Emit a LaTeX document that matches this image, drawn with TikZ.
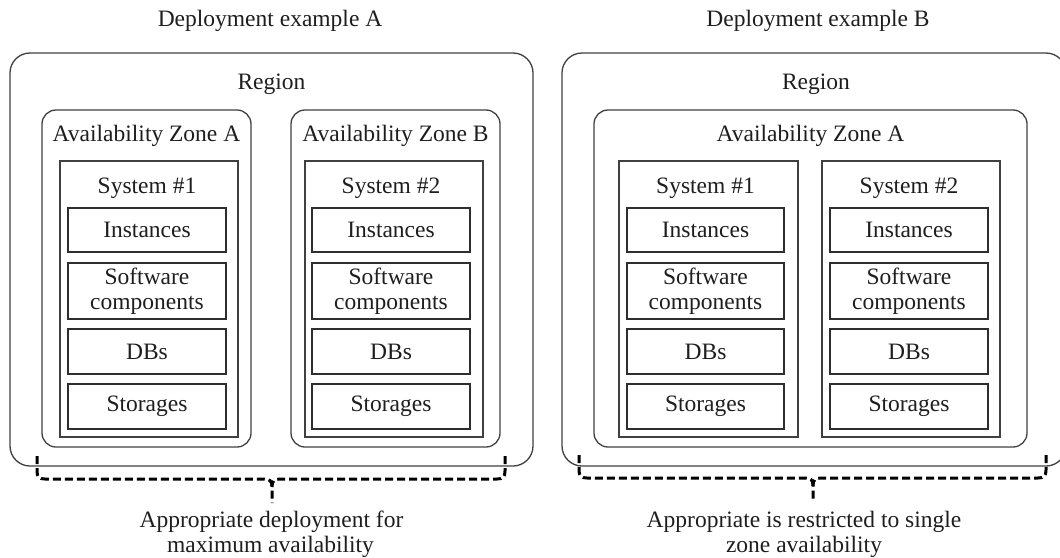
\documentclass[tikz,border=0pt]{standalone}
\usepackage{fontspec}
\setmainfont{Liberation Serif}
\newcommand\myfs{\fontsize{23.5}{25}\selectfont}
\definecolor{ln}{HTML}{404040}
\definecolor{lnd}{HTML}{2E2E2E}
\definecolor{txt}{HTML}{1E1E1E}
\tikzset{
  regionbox/.style={draw=ln, line width=1.3pt, rounded corners=20pt, inner sep=0pt, outer sep=0pt},
  zonebox/.style={draw=ln, line width=1.3pt, rounded corners=14pt, inner sep=0pt, outer sep=0pt},
  sysbox/.style={draw=ln, line width=1.3pt, inner sep=0pt, outer sep=0pt},
  itembox/.style={draw=lnd, line width=2pt, inner sep=0pt, outer sep=0pt, align=center, text=txt, font=\myfs},
  lbl/.style={anchor=base, text=txt, font=\myfs, inner sep=0pt},
  bracepath/.style={draw=black, line width=3pt, dash pattern=on 8pt off 4pt},
}
% #1 prefix, #2 left x, #3 right x
\newcommand\itemstack[3]{%
  \pgfmathsetmacro\mycx{(#2+#3)/2}%
  \pgfmathsetmacro\myw{#3-#2}%
  \node[itembox, minimum width=\myw pt, minimum height=44pt] (#1inst) at (\mycx,230) {Instances};
  \node[itembox, minimum width=\myw pt, minimum height=56pt] (#1soft) at (\mycx,291) {Software\\components};
  \node[itembox, minimum width=\myw pt, minimum height=45pt] (#1db) at (\mycx,351.5) {DBs};
  \node[itembox, minimum width=\myw pt, minimum height=45pt] (#1stor) at (\mycx,406.5) {Storages};
}
\begin{document}
\begin{tikzpicture}[x=1pt,y=-1pt]
\useasboundingbox (0,0) rectangle (1060,557);

% ---------- Example A ----------
\node[lbl] (titleA) at (270,26) {Deployment example A};
\node[regionbox, minimum width=523pt, minimum height=413pt] (regA) at (271.5,259.5) {};
\node[lbl] (regAlbl) at (271.5,89) {Region};
\node[zonebox, minimum width=209pt, minimum height=337pt] (zoneAA) at (146.5,278.5) {};
\node[zonebox, minimum width=209pt, minimum height=337pt] (zoneAB) at (395.5,278.5) {};
\node[lbl] (zoneAAlbl) at (146.5,141) {Availability Zone A};
\node[lbl] (zoneABlbl) at (395.5,141) {Availability Zone B};
\node[sysbox, minimum width=178pt, minimum height=276pt] (sysA1) at (149,299) {};
\node[sysbox, minimum width=178pt, minimum height=276pt] (sysA2) at (394,299) {};
\node[lbl] (sysA1lbl) at (147,193) {System \#1};
\node[lbl] (sysA2lbl) at (391,193) {System \#2};
\itemstack{a1}{68}{226}
\itemstack{a2}{312}{470}

\draw[bracepath] (37,456) -- (37,471) .. controls (37,477) and (39,479) .. (45,479)
  -- (264,479) .. controls (270,479) and (272,481) .. (272,487) -- (272,503);
\draw[bracepath] (505,456) -- (505,471) .. controls (505,477) and (503,479) .. (497,479)
  -- (280,479) .. controls (274,479) and (272,481) .. (272,487);
\node[lbl] (noteA1) at (271.5,527) {Appropriate deployment for};
\node[lbl] (noteA2) at (270.5,552) {maximum availability};

% ---------- Example B ----------
\node[lbl] (titleB) at (818,26) {Deployment example B};
\node[regionbox, minimum width=504pt, minimum height=413pt] (regB) at (814,259.5) {};
\node[lbl] (regBlbl) at (816,89) {Region};
\node[zonebox, minimum width=433pt, minimum height=337pt] (zoneB) at (810.5,278.5) {};
\node[lbl] (zoneBlbl) at (810.5,141) {Availability Zone A};
\node[sysbox, minimum width=179pt, minimum height=276pt] (sysB1) at (708.5,299) {};
\node[sysbox, minimum width=178pt, minimum height=276pt] (sysB2) at (911,299) {};
\node[lbl] (sysB1lbl) at (705.5,193) {System \#1};
\node[lbl] (sysB2lbl) at (909,193) {System \#2};
\itemstack{b1}{627}{784}
\itemstack{b2}{830}{988}

\draw[bracepath] (579,455) -- (579,470) .. controls (579,476) and (581,478) .. (587,478)
  -- (805,478) .. controls (811,478) and (813,480) .. (813,486) -- (813,502);
\draw[bracepath] (1046,455) -- (1046,470) .. controls (1046,476) and (1044,478) .. (1038,478)
  -- (821,478) .. controls (815,478) and (813,480) .. (813,486);
\node[lbl] (noteB1) at (804,527) {Appropriate is restricted to single};
\node[lbl] (noteB2) at (804,552) {zone availability};
\end{tikzpicture}
\end{document}
